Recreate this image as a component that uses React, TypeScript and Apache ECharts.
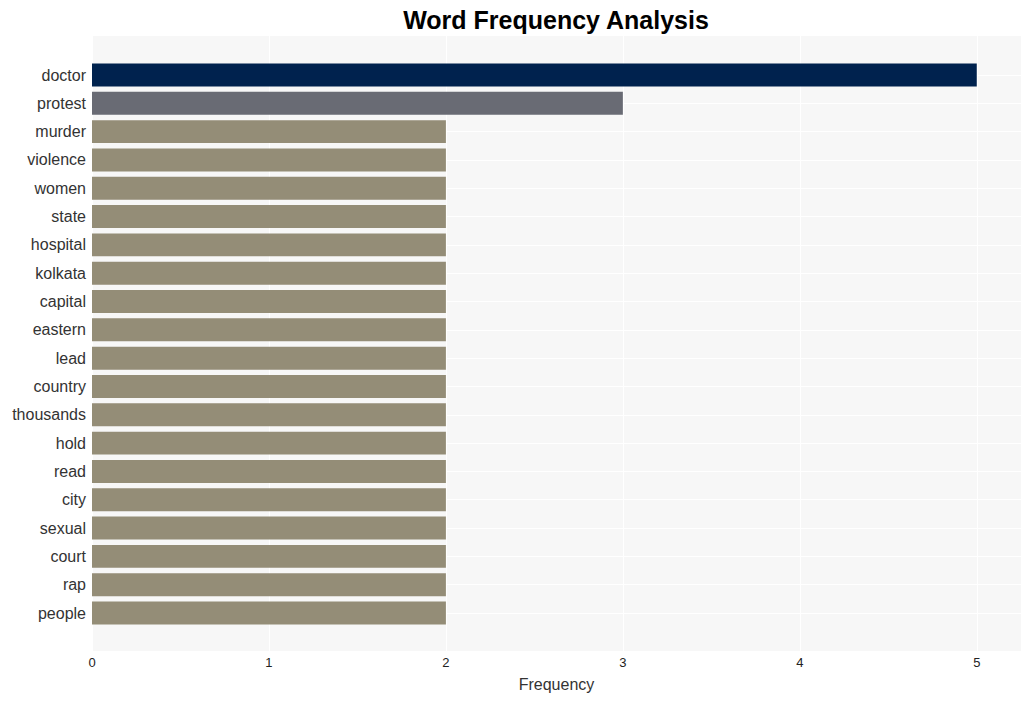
import React, { useEffect, useRef } from "react";
import * as echarts from "echarts";

const categories = [
  "doctor", "protest", "murder", "violence", "women", "state", "hospital", "kolkata",
  "capital", "eastern", "lead", "country", "thousands", "hold", "read", "city",
  "sexual", "court", "rap", "people",
];
const values = [5, 3, 2, 2, 2, 2, 2, 2, 2, 2, 2, 2, 2, 2, 2, 2, 2, 2, 2, 2];
const barColors = ["#00224e", "#696b74"];
const defaultColor = "#948d77";
const xTicks = [0, 1, 2, 3, 4, 5];

export default function App() {
  const ref = useRef<HTMLDivElement>(null);
  useEffect(() => {
    if (!ref.current) return;
    const chart = echarts.init(ref.current, null, { renderer: "svg" });
    const font = "'Liberation Sans', Arial, sans-serif";
    const band = (613 - 75) / 19;
    const g1Top = 75 - band / 2;
    const g1Height = band * 20;
    chart.setOption({
      animation: false,
      title: {
        text: "Word Frequency Analysis",
        left: 551,
        textAlign: "center",
        top: 2,
        textStyle: { fontFamily: font, fontSize: 25, fontWeight: "bold", color: "#000" },
      },
      grid: [
        { left: 92, top: 36, width: 929, height: 615, show: true, backgroundColor: "#f7f7f7", borderWidth: 0 },
        { left: 92, top: g1Top, width: 929, height: g1Height, show: false },
        { left: 92, top: g1Top - band / 2, width: 929, height: g1Height, show: false },
      ],
      xAxis: [
        {
          gridIndex: 0,
          type: "value",
          min: 0,
          max: 5.25,
          interval: 1,
          axisLine: { show: false },
          axisTick: { show: false },
          splitLine: { show: true, lineStyle: { color: "#ffffff", width: 1 } },
          axisLabel: {
            fontFamily: font,
            fontSize: 13,
            color: "#222",
            margin: 5,
            formatter: (v: number) => (xTicks.includes(v) ? String(v) : ""),
          },
          name: "Frequency",
          nameLocation: "middle",
          nameGap: 25,
          nameTextStyle: { fontFamily: font, fontSize: 16, color: "#333" },
        },
        { gridIndex: 1, type: "value", min: 0, max: 5.25, show: false },
        { gridIndex: 2, type: "value", min: 0, max: 5.25, show: false },
      ],
      yAxis: [
        { gridIndex: 0, type: "value", show: false, splitLine: { show: false } },
        {
          gridIndex: 1,
          type: "category",
          data: categories,
          inverse: true,
          axisLine: { show: false },
          axisTick: { show: false },
          splitLine: { show: false },
          axisLabel: { fontFamily: font, fontSize: 16, color: "#333", margin: 6 },
        },
        {
          gridIndex: 2,
          type: "category",
          data: categories,
          inverse: true,
          axisLine: { show: false },
          axisTick: { show: false },
          axisLabel: { show: false },
          splitLine: {
            show: true,
            showMinLine: false,
            showMaxLine: true,
            lineStyle: { color: "#ffffff", width: 1 },
          },
        },
      ],
      series: [
        {
          type: "bar",
          xAxisIndex: 1,
          yAxisIndex: 1,
          z: 3,
          barCategoryGap: "19%",
          data: values.map((v, i) => ({
            value: v,
            itemStyle: { color: barColors[i] ?? defaultColor },
          })),
        },
      ],
    });
    return () => chart.dispose();
  }, []);
  return (
    <div
      ref={ref}
      style={{ position: "absolute", left: 0, top: 0, width: 1031, height: 701 }}
    />
  );
}
